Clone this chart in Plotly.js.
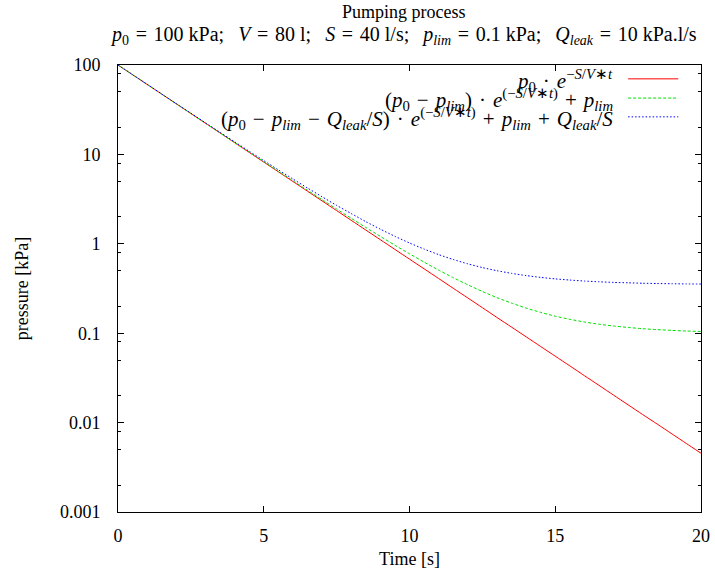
<!DOCTYPE html>
<html>
<head>
<meta charset="utf-8">
<script src="https://cdn.plot.ly/plotly-3.0.1.min.js"></script>
<style>
html,body{margin:0;padding:0;background:#fff;}
#chart{width:715px;height:569px;}
</style>
</head>
<body>
<div id="chart"></div>
<script>
// Time [s]
var time = [0,0.5,1,1.5,2,2.5,3,3.5,4,4.5,5,5.5,6,6.5,7,7.5,8,8.5,9,9.5,10,10.5,11,11.5,12,12.5,13,13.5,14,14.5,15,15.5,16,16.5,17,17.5,18,18.5,19,19.5,20];
// pressure [kPa]
var pIdeal = [100,77.88,60.65,47.24,36.79,28.65,22.31,17.38,13.53,10.54,8.208,6.393,4.979,3.877,3.020,2.352,1.832,1.426,1.111,0.865,0.674,0.525,0.409,0.318,0.248,0.193,0.150,0.117,0.0912,0.0710,0.0553,0.0431,0.0335,0.0261,0.0203,0.0158,0.0123,0.00961,0.00749,0.00583,0.00454];
var pLim = [100,77.90,60.69,47.29,36.85,28.72,22.39,17.46,13.62,10.63,8.30,6.49,5.07,3.97,3.117,2.45,1.930,1.525,1.210,0.964,0.773,0.624,0.508,0.418,0.348,0.293,0.250,0.217,0.191,0.171,0.155,0.143,0.1335,0.126,0.1203,0.116,0.1123,0.1096,0.1075,0.1058,0.1045];
var pLeak = [100,77.96,60.79,47.43,37.01,28.90,22.58,17.67,13.84,10.85,8.53,6.72,5.31,4.21,3.36,2.69,2.18,1.77,1.457,1.212,1.021,0.873,0.757,0.667,0.597,0.542,0.500,0.467,0.441,0.421,0.405,0.393,0.383,0.376,0.370,0.366,0.362,0.3596,0.3575,0.3558,0.3545];

var M = '\u2004'; // three-per-em space (TeX-like math spacing)
var E = '\u2002';
var seriesNames = [
  '<i>p</i><sub>0</sub>' + M + '·' + M + '<i>e</i><sup>−<i>S</i>/<i>V</i>∗<i>t</i></sup>',
  '(<i>p</i><sub>0</sub>' + M + '−' + M + '<i>p<sub>lim</sub></i>)' + M + '·' + M + '<i>e</i><sup>(−<i>S</i>/<i>V</i>∗<i>t</i>)</sup>' + M + '+' + M + '<i>p<sub>lim</sub></i>',
  '(<i>p</i><sub>0</sub>' + M + '−' + M + '<i>p<sub>lim</sub></i>' + M + '−' + M + '<i>Q<sub>leak</sub></i>/<i>S</i>)' + M + '·' + M + '<i>e</i><sup>(−<i>S</i>/<i>V</i>∗<i>t</i>)</sup>' + M + '+' + M + '<i>p<sub>lim</sub></i>' + M + '+' + M + '<i>Q<sub>leak</sub></i>/<i>S</i>'
];
var seriesY = [pIdeal, pLim, pLeak];
var colors = ['#ff0000', '#00e000', '#0000ff'];
var dashes = ['solid', '3px,2px', '1.5px,2px'];

var yTickVals = [0.001, 0.01, 0.1, 1, 10, 100];
var yTickText = ['0.001', '0.01', '0.1', '1', '10', '100'];
var yMinorVals = [];
[0.001, 0.01, 0.1, 1, 10].forEach(function (d) { [2, 5, 8].forEach(function (m) { yMinorVals.push(d * m); }); });

var FONT = 'Liberation Serif';

var traces = seriesY.map(function (ys, i) {
  return {
    x: time, y: ys, type: 'scatter', mode: 'lines', name: seriesNames[i],
    line: {color: colors[i], width: 1, dash: dashes[i], shape: 'spline', smoothing: 0.6},
    hoverinfo: 'skip'
  };
});

// Legend (gnuplot style: text on the left, line sample on the right)
var legY = [0.969, 0.926, 0.884];
var shapes = [], annotations = [];
for (var i = 0; i < 3; i++) {
  shapes.push({type: 'line', xref: 'paper', yref: 'paper', x0: 0.875, x1: 0.961, y0: legY[i], y1: legY[i],
    line: {color: colors[i], width: 1, dash: dashes[i]}});
  annotations.push({xref: 'paper', yref: 'paper', x: 0.853, y: legY[i] - 0.004, xanchor: 'right', yanchor: 'middle',
    text: seriesNames[i], showarrow: false, font: {family: FONT, size: 21, color: '#000'}});
}
var SEP = ';' + E + '\u2009';
annotations.push({xref: 'paper', yref: 'paper', x: 0.49, y: 1, yshift: 41, xanchor: 'center', yanchor: 'bottom',
  text: 'Pumping process', showarrow: false, font: {family: FONT, size: 18, color: '#000'}});
annotations.push({xref: 'paper', yref: 'paper', x: 0.49, y: 1, yshift: 15, xanchor: 'center', yanchor: 'bottom',
  text: '<i>p</i><sub>0</sub>' + M + '=' + M + '100 kPa' + SEP + '<i>V</i>' + M + '=' + M + '80 l' + SEP + '<i>S</i>' + M + '=' + M + '40 l/s' + SEP +
        '<i>p<sub>lim</sub></i>' + M + '=' + M + '0.1 kPa' + SEP + '<i>Q<sub>leak</sub></i>' + M + '=' + M + '10 kPa.l/s',
  showarrow: false, font: {family: FONT, size: 20, color: '#000'}});

var layout = {
  width: 715, height: 569,
  margin: {l: 118, r: 14, t: 65, b: 57, pad: 0},
  paper_bgcolor: '#fff', plot_bgcolor: '#fff',
  showlegend: false,
  font: {family: FONT, size: 18, color: '#000'},
  xaxis: {
    range: [0, 20], tickvals: [0, 5, 10, 15, 20], ticktext: ['0', '5', '10', '15', '20'],
    ticks: 'inside', ticklen: 6, tickcolor: '#000', tickwidth: 1,
    showline: true, linecolor: '#000', linewidth: 1, mirror: 'ticks',
    showgrid: false, zeroline: false, ticklabelstandoff: 7,
    tickfont: {family: FONT, size: 18},
    title: {text: 'Time [s]', font: {family: FONT, size: 18}, standoff: 8}
  },
  yaxis: {
    type: 'log', range: [-3, 2], tickvals: yTickVals, ticktext: yTickText,
    ticks: 'inside', ticklen: 6, tickcolor: '#000', tickwidth: 1,
    minor: {tickvals: yMinorVals, ticks: 'inside', ticklen: 3, tickcolor: '#000', tickwidth: 1, showgrid: false},
    showline: true, linecolor: '#000', linewidth: 1, mirror: 'ticks',
    showgrid: false, zeroline: false, ticklabelstandoff: 13,
    tickfont: {family: FONT, size: 18},
    title: {text: 'pressure [kPa]', font: {family: FONT, size: 18}, standoff: 26}
  },
  shapes: shapes,
  annotations: annotations
};

Plotly.newPlot('chart', traces, layout, {displayModeBar: false, staticPlot: true});
</script>
</body>
</html>
